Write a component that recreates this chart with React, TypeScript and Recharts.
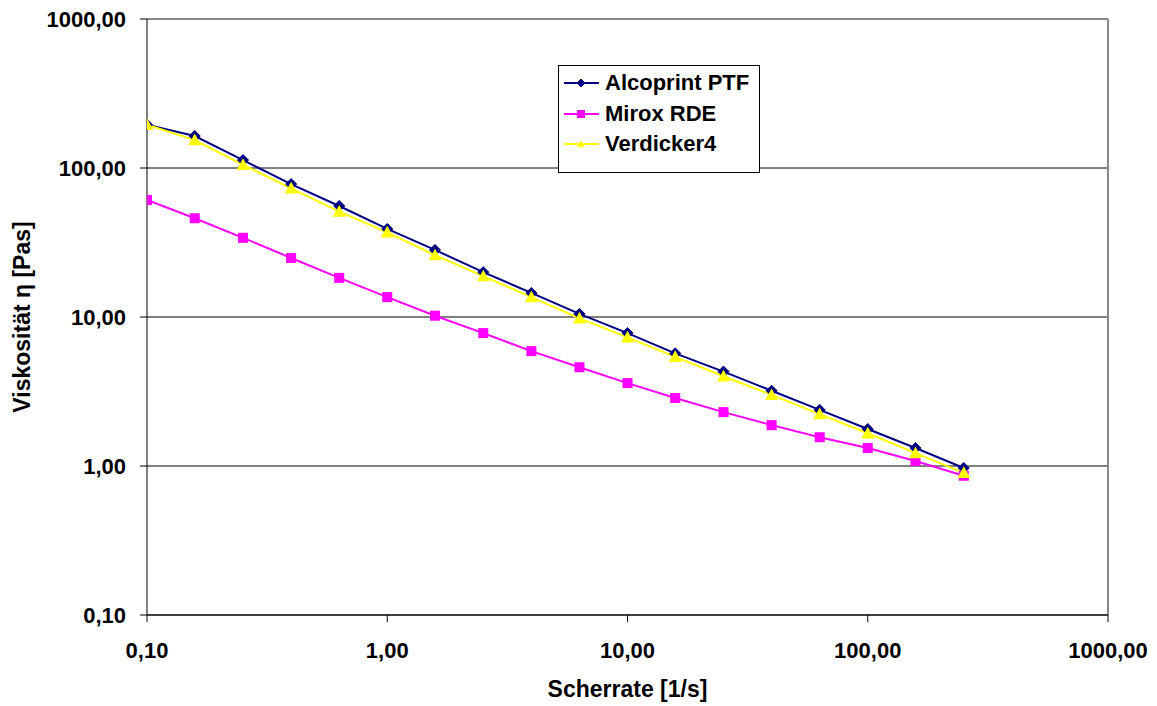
import {
  LineChart,
  Line,
  CartesianGrid,
  XAxis,
  YAxis,
  Legend,
  ReferenceLine,
} from "recharts";

// Scherrate [1/s]
const shearRates = [
  0.1, 0.158, 0.251, 0.398, 0.631, 1, 1.58, 2.51, 3.98, 6.31, 10, 15.8, 25.1,
  39.8, 63.1, 100, 158, 251,
];

// Viskosität [Pas]
const alcoprint = [
  195, 164, 113, 78, 55.6, 39, 28.2, 20, 14.5, 10.5, 7.8, 5.7, 4.3, 3.2, 2.38,
  1.77, 1.32, 0.97,
];
const mirox = [
  61, 46, 34, 24.9, 18.3, 13.6, 10.2, 7.8, 5.9, 4.6, 3.6, 2.86, 2.3, 1.88,
  1.56, 1.32, 1.08, 0.86,
];
const verdicker = [
  195, 154, 105, 73, 51, 37, 26, 18.8, 13.6, 9.8, 7.3, 5.4, 4.0, 3.0, 2.23,
  1.66, 1.22, 0.9,
];

const logTicks = [0.1, 1, 10, 100, 1000];

const data = shearRates.map((x, i) => ({
  x,
  alcoprint: alcoprint[i],
  mirox: mirox[i],
  verdicker: verdicker[i],
}));

const font = '"Liberation Sans", Arial, sans-serif';
const fmt = (v: number) => v.toFixed(2).replace(".", ",");

const tickStyle = {
  fill: "#000",
  fontSize: 22,
  fontWeight: 700,
  fontFamily: font,
};

function Diamond({ cx, cy, color, r = 5.5 }: any) {
  if (cx == null || cy == null) return null;
  return (
    <polygon
      points={`${cx},${cy - r} ${cx + r},${cy} ${cx},${cy + r} ${cx - r},${cy}`}
      fill={color}
      stroke={color}
    />
  );
}

function Square({ cx, cy, color, r = 5 }: any) {
  if (cx == null || cy == null) return null;
  return <rect x={cx - r} y={cy - r} width={r * 2} height={r * 2} fill={color} />;
}

function Triangle({ cx, cy, color, r = 6.5 }: any) {
  if (cx == null || cy == null) return null;
  return (
    <polygon
      points={`${cx},${cy - r} ${cx + r},${cy + r * 0.8} ${cx - r},${cy + r * 0.8}`}
      fill={color}
    />
  );
}

const series = [
  { key: "alcoprint", name: "Alcoprint PTF", color: "#000080", Marker: Diamond },
  { key: "mirox", name: "Mirox RDE", color: "#FF00FF", Marker: Square },
  { key: "verdicker", name: "Verdicker4", color: "#FFFF00", Marker: Triangle },
];

function LegendBox() {
  return (
    <div
      style={{
        border: "1px solid #000",
        background: "#fff",
        width: 200,
        height: 104,
        boxSizing: "content-box",
        paddingTop: 2,
      }}
    >
      {series.map((s) => (
        <div
          key={s.key}
          style={{ display: "flex", alignItems: "center", height: 30.5 }}
        >
          <svg width={46} height={20} style={{ flex: "none" }}>
            <line x1={5} y1={10} x2={40} y2={10} stroke={s.color} strokeWidth={2} />
            <s.Marker cx={22} cy={10} color={s.color} r={4} />
          </svg>
          <span
            style={{
              fontFamily: font,
              fontWeight: 700,
              fontSize: 22,
              color: "#000",
              whiteSpace: "nowrap",
            }}
          >
            {s.name}
          </span>
        </div>
      ))}
    </div>
  );
}

export default function App() {
  return (
    <div style={{ position: "absolute", left: 0, top: 0, background: "#fff" }}>
      <LineChart
        width={1157}
        height={706}
        data={data}
        margin={{ top: 19, right: 49, bottom: 0, left: 0 }}
      >
        <CartesianGrid vertical={false} stroke="#000" />
        <XAxis
          dataKey="x"
          type="number"
          scale="log"
          domain={[0.1, 1000]}
          ticks={logTicks}
          allowDataOverflow
          height={91}
          tickFormatter={fmt}
          tick={tickStyle}
          tickSize={7}
          tickMargin={20}
          stroke="#000"
          label={{
            value: "Scherrate [1/s]",
            position: "insideBottom",
            offset: 9,
            style: { ...tickStyle, fontSize: 23, textAnchor: "middle" },
          }}
        />
        <YAxis
          type="number"
          scale="log"
          domain={[0.1, 1000]}
          ticks={logTicks}
          allowDataOverflow
          width={147}
          tickFormatter={fmt}
          tick={tickStyle}
          tickSize={7}
          tickMargin={14}
          stroke="#000"
          label={{
            value: "Viskosität η [Pas]",
            angle: -90,
            position: "insideLeft",
            offset: 22,
            style: { ...tickStyle, fontSize: 23, textAnchor: "middle" },
          }}
        />
        <ReferenceLine y={1000} stroke="#888" strokeWidth={2} />
        <ReferenceLine x={1000} stroke="#888" strokeWidth={2} />
        <Legend
          layout="horizontal"
          verticalAlign="middle"
          align="center"
          content={() => <LegendBox />}
          wrapperStyle={{ left: 558, top: 65, width: 202, height: 106, bottom: "auto" }}
        />
        {series.map((s) => (
          <Line
            key={s.key}
            dataKey={s.key}
            name={s.name}
            stroke={s.color}
            strokeWidth={2}
            isAnimationActive={false}
            dot={(p: any) => <s.Marker key={p.index} cx={p.cx} cy={p.cy} color={s.color} />}
            activeDot={false}
          />
        ))}
      </LineChart>
    </div>
  );
}
